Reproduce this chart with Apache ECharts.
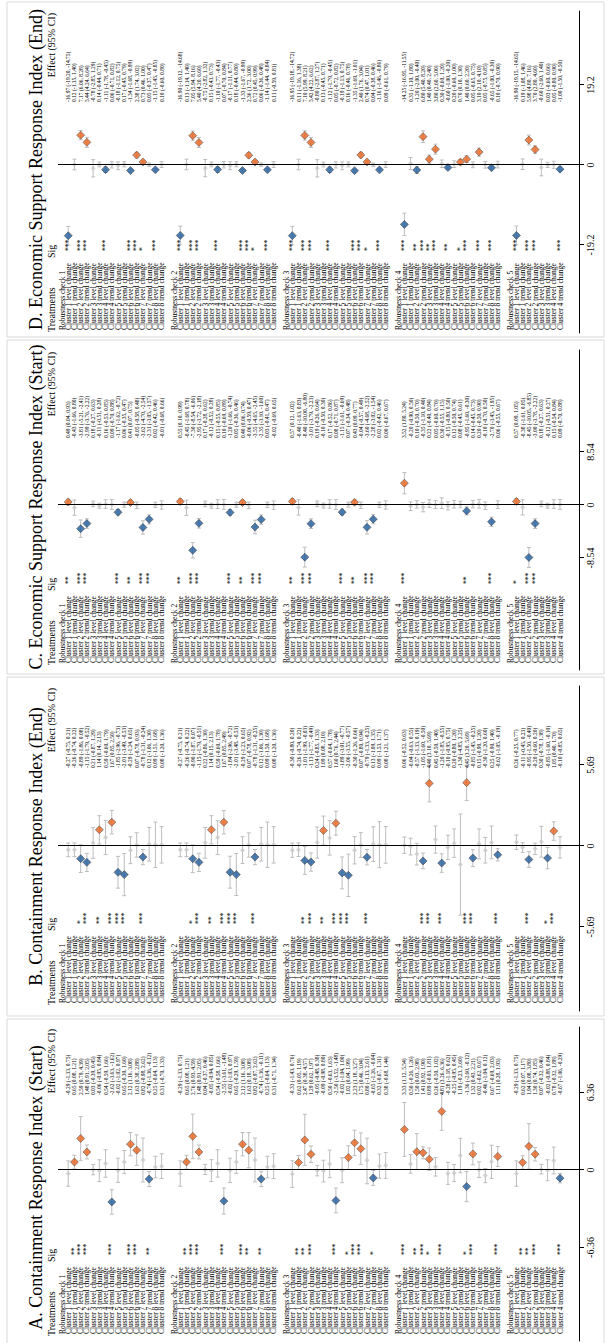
<!DOCTYPE html>
<html>
<head>
<meta charset="utf-8">
<script src="https://cdn.jsdelivr.net/npm/echarts@6/dist/echarts.min.js"></script>
<style>
  html, body { margin: 0; padding: 0; background: #fff; overflow: hidden; }
  #wrap { position: absolute; left: 0; top: 0; width: 611px; height: 1343px; overflow: hidden; }
  /* the figure is drawn landscape and turned a quarter turn, like the reference */
  #chart { position: absolute; left: 0; top: 0; width: 1343px; height: 611px;
           transform-origin: 0 0; transform: translate(0, 1343px) rotate(-90deg); }
</style>
</head>
<body>
<div id="wrap"><div id="chart"></div></div>
<script>
const panelTitles = [
  'A. Containment Response Index (Start)',
  'B. Containment Response Index (End)',
  'C. Economic Support Response Index (Start)',
  'D. Economic Support Response Index (End)'
];
const axisTicks = [6.36, 5.69, 8.54, 19.2];
const columnHeads = ['Treatments', 'Sig', 'Effect (95% CI)'];
const checkNames = ['Robustness check 1', 'Robustness check 2', 'Robustness check 3',
  'Robustness check 4', 'Robustness check 5'];
const clusterRows = [
  'Cluster 1 level change', 'Cluster 1 trend change', 'Cluster 2 level change', 'Cluster 2 trend change',
  'Cluster 3 level change', 'Cluster 3 trend change', 'Cluster 4 level change', 'Cluster 4 trend change',
  'Cluster 5 level change', 'Cluster 5 trend change', 'Cluster 6 level change', 'Cluster 6 trend change',
  'Cluster 7 level change', 'Cluster 7 trend change', 'Cluster 8 level change', 'Cluster 8 trend change'
];
const checkSizes = [16, 16, 16, 16, 8];

// A. Containment Response Index (Start)
const aEst = [
  -0.29, 0.65, 2.59, 1.48, 0.03, -0.06, 0.54, -2.62, -0.02, 0.65, 2.12, 1.63, 0.82, -0.74, 0.25, 0.31,
  -0.29, 0.65, 2.76, 1.48, 0.04, -0.05, 0.54, -2.55, -0.02, 0.65, 2.12, 1.63, 0.82, -0.74, 0.25, 0.31,
  -0.33, 0.62, 2.47, 1.29, -0.05, -0.09, 0.50, -2.50, -0.02, 1.02, 2.23, 1.75, 0.80, -0.65, 0.32, 0.38,
  3.33, 0.50, 1.50, 1.41, 0.89, 0.26, 4.81, -0.28, -0.25, 1.19, -1.36, 1.32, 0.02, -0.46, 0.67, 1.11,
  -0.29, 0.62, 1.94, 1.30, 0.07, -0.02, 0.78, -0.67
];
const aLo = [
  -1.33, 0.08, 0.79, 0.91, -0.39, -0.95, -0.59, -3.63, -1.02, -0.30, 1.16, 0.38, -0.98, -1.36, -0.64, -0.70,
  -1.33, 0.08, 0.93, 0.91, -0.37, -0.94, -0.58, -3.61, -1.03, -0.29, 1.16, 0.18, -0.97, -1.36, -0.64, -0.71,
  -1.43, 0.05, 0.38, 0.62, -0.48, -0.98, -0.63, -3.52, -1.04, 0.04, 1.18, 0.46, -1.13, -1.26, -0.67, -0.68,
  1.12, -0.26, 0.03, 0.92, -0.03, -0.50, 3.26, -1.18, -0.95, -0.23, -2.60, 0.43, -0.62, -1.04, -0.69, 0.28,
  -1.33, 0.07, 0.08, 0.74, -0.32, -0.88, -0.32, -1.06
];
const aHi = [
  0.75, 1.21, 4.39, 2.05, 0.45, 0.84, 1.66, -1.62, 0.97, 1.60, 3.08, 2.88, 2.62, -0.12, 1.13, 1.33,
  0.75, 1.21, 4.59, 2.05, 0.46, 0.85, 1.66, -1.48, 0.97, 1.59, 3.08, 3.08, 2.62, -0.11, 1.13, 1.34,
  0.76, 1.19, 4.57, 1.97, 0.38, 0.80, 1.63, -1.48, 1.00, 1.99, 3.27, 3.04, 2.61, -0.04, 1.31, 1.44,
  5.54, 1.26, 2.98, 1.90, 1.81, 1.02, 6.36, 0.62, 0.45, 2.60, -0.12, 2.21, 0.67, 0.12, 2.03, 1.93,
  0.75, 1.17, 3.80, 1.85, 0.46, 0.84, 1.88, -0.29
];
const aSig = [
  '', '**', '***', '***', '', '', '', '***', '', '', '***', '***', '', '**', '', '',
  '', '**', '***', '***', '', '', '', '***', '', '', '***', '**', '', '**', '', '',
  '', '**', '**', '***', '', '', '', '***', '', '*', '***', '***', '', '*', '', '',
  '***', '', '**', '***', '*', '', '***', '', '', '', '*', '***', '', '', '', '***',
  '', '**', '**', '***', '', '', '', '***'
];

// B. Containment Response Index (End)
const bEst = [
  -0.27, -0.26, -0.89, -1.15, 0.21, 1.14, 0.59, 1.67, -1.85, -2.01, -0.29, 0.07, -0.78, 0.12, 0.09, 0.08,
  -0.27, -0.26, -0.90, -1.15, 0.22, 1.14, 0.59, 1.67, -1.84, -2.01, -0.29, 0.07, -0.78, 0.12, 0.09, 0.08,
  -0.30, -0.26, -1.01, -1.13, 0.24, 1.09, 0.57, 1.60, -1.89, -2.06, -0.30, 0.07, -0.79, 0.13, 0.09, 0.08,
  0.06, -0.04, -0.57, -1.05, 4.40, 0.45, -1.20, -0.10, 0.20, -1.30, 4.45, -0.85, 0.15, -0.30, 0.25, -0.62,
  0.26, -0.11, -0.95, -0.20, 0.30, -0.85, 1.05, -0.10
];
const bLo = [
  -0.75, -0.74, -1.86, -1.79, -0.87, 0.14, -0.60, 0.85, -2.96, -3.49, -1.24, -0.78, -1.31, -1.06, -1.51, -1.20,
  -0.75, -0.74, -1.87, -1.79, -0.86, 0.15, -0.60, 0.85, -2.96, -3.48, -1.23, -0.78, -1.31, -1.06, -1.50, -1.20,
  -0.80, -0.74, -1.99, -1.77, -0.85, 0.08, -0.64, 0.76, -3.01, -3.55, -1.26, -0.80, -1.33, -1.09, -1.53, -1.21,
  -0.52, -0.63, -1.33, -1.60, 3.10, -0.50, -1.85, -0.95, -0.80, -4.85, 3.20, -1.45, -0.90, -1.20, -0.90, -1.05,
  -0.25, -0.45, -1.50, -0.60, -0.78, -1.60, 0.40, -0.85
];
const bHi = [
  0.21, 0.22, 0.08, -0.52, 1.29, 2.13, 1.79, 2.50, -0.73, -0.53, 0.65, 0.93, -0.24, 1.30, 1.68, 1.36,
  0.21, 0.22, 0.07, -0.51, 1.30, 2.13, 1.78, 2.49, -0.72, -0.53, 0.65, 0.92, -0.25, 1.30, 1.68, 1.36,
  0.20, 0.22, -0.03, -0.49, 1.33, 2.10, 1.78, 2.44, -0.77, -0.57, 0.66, 0.94, -0.25, 1.35, 1.71, 1.37,
  0.63, 0.55, 0.19, -0.50, 5.69, 1.40, -0.55, 0.75, 1.20, 2.25, 5.69, -0.25, 1.20, 0.60, 1.40, -0.19,
  0.77, 0.23, -0.40, 0.20, 1.38, -0.10, 1.70, 0.65
];
const bSig = [
  '', '', '*', '***', '', '**', '', '***', '***', '***', '', '', '***', '', '', '',
  '', '', '*', '***', '', '**', '', '***', '***', '***', '', '', '***', '', '', '',
  '', '', '**', '***', '', '**', '', '***', '***', '***', '', '', '***', '', '', '',
  '', '', '', '***', '***', '', '***', '', '', '', '***', '***', '', '', '', '***',
  '', '', '***', '', '', '*', '***', ''
];

// C. Economic Support Response Index (Start)
const cEst = [
  0.49, -0.43, -3.81, -2.99, 0.18, -0.11, 0.16, 0.09, -1.17, 0.06, 0.41, -0.05, -3.62, -2.31, 0.02, -0.01,
  0.55, -0.45, -7.30, -2.95, 0.17, -0.12, 0.15, 0.10, -1.20, 0.05, 0.40, -0.06, -3.55, -2.35, 0.03, -0.02,
  0.57, -0.40, -8.40, -3.01, 0.19, -0.10, 0.17, 0.08, -1.15, 0.07, 0.43, -0.04, -3.60, -2.28, 0.02, 0.00,
  3.52, -0.20, 0.10, -0.35, 0.22, 0.05, 0.30, -0.15, 0.12, 0.08, -0.95, 0.14, 0.20, -0.10, -2.70, 0.06,
  0.57, -0.38, -8.45, -3.00, 0.18, -0.12, 0.15, 0.09
];
const cLo = [
  0.04, -1.66, -5.21, -3.76, -0.27, -0.51, -0.53, -0.70, -1.62, -0.35, 0.07, -0.58, -4.70, -3.05, -0.42, -0.68,
  0.10, -1.68, -8.54, -3.72, -0.28, -0.52, -0.55, -0.69, -1.66, -0.36, 0.06, -0.59, -4.65, -3.10, -0.41, -0.69,
  0.12, -1.63, -10.00, -3.79, -0.26, -0.50, -0.52, -0.71, -1.61, -0.34, 0.09, -0.57, -4.68, -3.02, -0.42, -0.67,
  1.80, -0.90, -0.50, -1.10, -0.40, -0.60, -0.55, -0.80, -0.50, -0.45, -1.60, -0.45, -0.50, -0.70, -3.45, -0.55,
  0.09, -1.61, -10.05, -3.78, -0.27, -0.51, -0.54, -0.70
];
const cHi = [
  0.93, 0.80, -2.41, -2.22, 0.63, 0.28, 0.85, 0.88, -0.72, 0.47, 0.75, 0.48, -2.54, -1.57, 0.46, 0.66,
  0.99, 0.78, -6.06, -2.18, 0.62, 0.28, 0.85, 0.89, -0.74, 0.46, 0.74, 0.47, -2.45, -1.60, 0.47, 0.65,
  1.02, 0.83, -6.80, -2.23, 0.64, 0.30, 0.86, 0.87, -0.69, 0.48, 0.77, 0.49, -2.52, -1.54, 0.46, 0.67,
  5.24, 0.50, 0.70, 0.40, 0.84, 0.70, 1.15, 0.50, 0.74, 0.61, -0.30, 0.73, 0.90, 0.50, -1.95, 0.67,
  1.05, 0.85, -6.85, -2.22, 0.63, 0.27, 0.84, 0.88
];
const cSig = [
  '**', '', '***', '***', '', '', '', '', '***', '', '**', '', '***', '***', '', '',
  '**', '', '***', '***', '', '', '', '', '***', '', '**', '', '***', '***', '', '',
  '**', '', '***', '***', '', '', '', '', '***', '', '**', '', '***', '***', '', '',
  '***', '', '', '', '', '', '', '', '', '', '**', '', '', '', '***', '',
  '*', '', '***', '***', '', '', '', ''
];

// D. Economic Support Response Index (End)
const dEst = [
  -16.97, 0.12, 7.17, 5.44, -0.78, 0.14, -1.11, 0.06, -0.18, 0.17, -1.34, 2.38, 0.73, 0.05, -1.15, 0.10,
  -16.90, 0.13, 7.05, 5.40, -0.75, 0.15, -1.10, 0.07, -0.17, 0.18, -1.33, 2.36, 0.72, 0.06, -1.14, 0.11,
  -16.95, 0.11, 7.10, 5.42, -0.80, 0.13, -1.12, 0.05, -0.19, 0.16, -1.35, 2.40, 0.74, 0.04, -1.16, 0.09,
  -14.25, 0.35, -1.20, 6.80, 1.40, 3.80, 0.30, -0.60, 0.20, 0.70, 1.40, 0.05, 3.10, 0.05, -0.65, 0.10,
  -16.90, 0.19, 5.98, 3.70, -0.60, 0.03, 0.05, -1.00
];
const dLo = [
  -19.20, -1.15, 6.06, 4.24, -2.85, -0.44, -1.78, -0.71, -1.12, -0.45, -1.68, 1.74, 0.46, -0.37, -1.45, -0.60,
  -19.12, -1.14, 5.94, 4.20, -2.82, -0.43, -1.77, -0.70, -1.11, -0.44, -1.67, 1.72, 0.45, -0.36, -1.44, -0.59,
  -19.18, -1.16, 5.99, 4.22, -2.87, -0.45, -1.79, -0.72, -1.13, -0.46, -1.69, 1.76, 0.47, -0.38, -1.46, -0.61,
  -16.95, -1.10, -2.00, 5.40, 0.40, 2.60, -0.60, -1.00, -0.60, 0.10, 0.60, -0.65, 2.10, -0.75, -1.00, -0.70,
  -19.15, -1.08, 4.80, 2.80, -2.60, -0.60, -0.80, -1.50
];
const dHi = [
  -14.75, 1.40, 8.28, 6.64, 1.29, 0.71, -0.45, 0.82, 0.75, 0.79, -0.99, 3.02, 1.00, 0.47, -0.85, 0.80,
  -14.68, 1.40, 8.16, 6.60, 1.32, 0.73, -0.43, 0.84, 0.77, 0.80, -0.99, 3.00, 0.99, 0.48, -0.84, 0.81,
  -14.72, 1.38, 8.21, 6.62, 1.27, 0.71, -0.45, 0.82, 0.75, 0.78, -1.01, 3.04, 1.01, 0.46, -0.86, 0.79,
  -11.55, 1.80, -0.40, 8.20, 2.40, 5.00, 1.20, -0.20, 1.00, 1.30, 2.20, 0.75, 4.10, 0.85, -0.30, 0.90,
  -14.65, 1.46, 7.16, 4.60, 1.40, 0.66, 0.90, -0.50
];
const dSig = [
  '***', '', '***', '***', '', '', '***', '', '', '', '***', '***', '*', '', '***', '',
  '***', '', '***', '***', '', '', '***', '', '', '', '***', '***', '*', '', '***', '',
  '***', '', '***', '***', '', '', '***', '', '', '', '***', '***', '*', '', '***', '',
  '***', '', '**', '***', '**', '***', '', '**', '', '*', '***', '', '***', '', '***', '',
  '***', '', '***', '***', '', '', '', '***'
];

const panelData = [
  [aEst, aLo, aHi, aSig], [bEst, bLo, bHi, bSig], [cEst, cLo, cHi, cSig], [dEst, dLo, dHi, dSig]
];

// geometry of the unrotated 1343 x 611 figure
const layout = [
  { boxL: -13, boxR: 324, axisL: 2, axisR: 316, zero: 173, tickPx: 77.5, textL: 9, valL: 248 },
  { boxL: 327, boxR: 666, axisL: 332, axisR: 657, zero: 497, tickPx: 81, textL: 340, valL: 575 },
  { boxL: 669, boxR: 1003, axisL: 673, axisR: 993, zero: 838, tickPx: 53, textL: 680, valL: 905 },
  { boxL: 1006, boxR: 1341, axisL: 1010, axisR: 1332, zero: 1178, tickPx: 80, textL: 1013, valL: 1241 }
];
const GRID_TOP = 58, GRID_BOTTOM = 579, ROW0 = 62, ROW_PX = 6.225;
const ORANGE = '#E8641E', BLUE = '#1F5C9C', GREY = '#C9C9C9', CI_GREY = '#BDBDBD';
const SERIF = '"Liberation Serif", "Times New Roman", serif';

// row index of every line of the table
const rows = [];
let k = 0;
checkSizes.forEach((n, c) => {
  rows.push({ row: c * 18, text: checkNames[c], idx: -1 });
  for (let j = 0; j < n; j++) {
    rows.push({ row: c * 18 + 1 + j, text: clusterRows[j], idx: k++ });
  }
});

const fmt = v => v.toFixed(2);

const grids = [], xAxes = [], yAxes = [], series = [], graphics = [];

layout.forEach((L, p) => {
  const [est, lo, hi, sig] = panelData[p];
  const unit = L.tickPx / axisTicks[p];
  const t = axisTicks[p];

  grids.push({ left: L.axisL, width: L.axisR - L.axisL, top: GRID_TOP, height: GRID_BOTTOM - GRID_TOP,
    outerBoundsMode: 'none', containLabel: false });
  xAxes.push({
    type: 'value', gridIndex: p,
    min: (L.axisL - L.zero) / unit, max: (L.axisR - L.zero) / unit,
    splitLine: { show: false },
    axisLine: { show: true, onZero: false, lineStyle: { color: '#000', width: 1 } },
    axisTick: { show: true, length: 5, customValues: [-t, 0, t], lineStyle: { color: '#000' } },
    axisLabel: { customValues: [-t, 0, t], margin: 6, color: '#000', fontFamily: SERIF, fontSize: 10,
      formatter: v => (v === 0 ? '0' : String(v)) }
  });
  yAxes.push({ type: 'value', gridIndex: p, inverse: true, show: false,
    min: -(ROW0 - GRID_TOP) / ROW_PX, max: (GRID_BOTTOM - ROW0) / ROW_PX });

  const ciData = [], orange = [], blue = [], grey = [];
  rows.forEach(r => {
    if (r.idx < 0) return;
    const i = r.idx;
    ciData.push([r.row, lo[i], hi[i]]);
    if (sig[i] && est[i] > 0) orange.push([est[i], r.row]);
    else if (sig[i]) blue.push([est[i], r.row]);
    else grey.push([est[i], r.row]);
  });

  series.push({
    type: 'custom', xAxisIndex: p, yAxisIndex: p, silent: true,
    encode: { x: [1, 2], y: 0 },
    data: ciData,
    renderItem: (params, api) => {
      const y = api.value(0);
      const a = api.coord([api.value(1), y]);
      const b = api.coord([api.value(2), y]);
      const st = { stroke: CI_GREY, lineWidth: 1 };
      return { type: 'group', children: [
        { type: 'line', shape: { x1: a[0], y1: a[1], x2: b[0], y2: b[1] }, style: st },
        { type: 'line', shape: { x1: a[0], y1: a[1] - 2, x2: a[0], y2: a[1] + 2 }, style: st },
        { type: 'line', shape: { x1: b[0], y1: b[1] - 2, x2: b[0], y2: b[1] + 2 }, style: st }
      ] };
    },
    markLine: { silent: true, symbol: 'none', label: { show: false },
      lineStyle: { color: '#000', width: 1.2, type: 'solid' }, data: [{ xAxis: 0 }] },
    z: 2
  });
  series.push({ type: 'scatter', xAxisIndex: p, yAxisIndex: p, silent: true, data: grey,
    symbol: 'diamond', symbolSize: 5, itemStyle: { color: GREY }, z: 3 });
  series.push({ type: 'scatter', xAxisIndex: p, yAxisIndex: p, silent: true, data: orange,
    symbol: 'diamond', symbolSize: 8, itemStyle: { color: ORANGE, borderColor: '#3a3a3a', borderWidth: 0.6 }, z: 4 });
  series.push({ type: 'scatter', xAxisIndex: p, yAxisIndex: p, silent: true, data: blue,
    symbol: 'diamond', symbolSize: 8, itemStyle: { color: BLUE, borderColor: '#2a2a2a', borderWidth: 0.6 }, z: 4 });

  // table text: headers, treatments, stars, effect (95% CI)
  const items = [
    { row: -1.75, x: L.textL - 2, text: columnHeads[0], size: 10, align: 'left' },
    { row: -1.75, x: L.textL + 72, text: columnHeads[1], size: 10, align: 'left' },
    { row: -1.75, x: L.axisR - 2, text: columnHeads[2], size: 10, align: 'right' }
  ];
  rows.forEach(r => {
    items.push({ row: r.row, x: L.textL, text: r.text, size: 7.5, align: 'left' });
    if (r.idx >= 0) {
      const i = r.idx;
      if (sig[i]) items.push({ row: r.row, x: L.textL + 79, text: sig[i], size: 7.5, align: 'left' });
      items.push({ row: r.row, x: L.valL, text: fmt(est[i]) + ' (' + fmt(lo[i]) + ', ' + fmt(hi[i]) + ')',
        size: 5.5, align: 'left' });
    }
  });
  series.push({
    type: 'custom', xAxisIndex: p, yAxisIndex: p, silent: true, clip: false,
    encode: { x: 0, y: 1 },
    data: items.map(it => [0, it.row]),
    renderItem: (params, api) => {
      const it = items[params.dataIndex];
      const y = api.coord([0, it.row])[1];
      return { type: 'text', x: it.x, y: y,
        style: { text: it.text, fill: '#000', font: it.size + 'px ' + SERIF,
          align: it.align, verticalAlign: 'middle' } };
    },
    z: 5
  });

  graphics.push({ type: 'rect', silent: true,
    shape: { x: L.boxL, y: 7, width: L.boxR - L.boxL, height: 597 },
    style: { fill: 'none', stroke: '#D9D9D9', lineWidth: 1 } });
  graphics.push({ type: 'text', silent: true, x: (L.boxL + L.boxR) / 2, y: 36,
    style: { text: panelTitles[p], fill: '#000', font: '18px ' + SERIF, align: 'center', verticalAlign: 'middle' } });
});

const chart = echarts.init(document.getElementById('chart'), null, { renderer: 'svg', width: 1343, height: 611 });
chart.setOption({
  animation: false,
  backgroundColor: '#fff',
  grid: grids,
  xAxis: xAxes,
  yAxis: yAxes,
  series: series,
  graphic: graphics
});
</script>
</body>
</html>
